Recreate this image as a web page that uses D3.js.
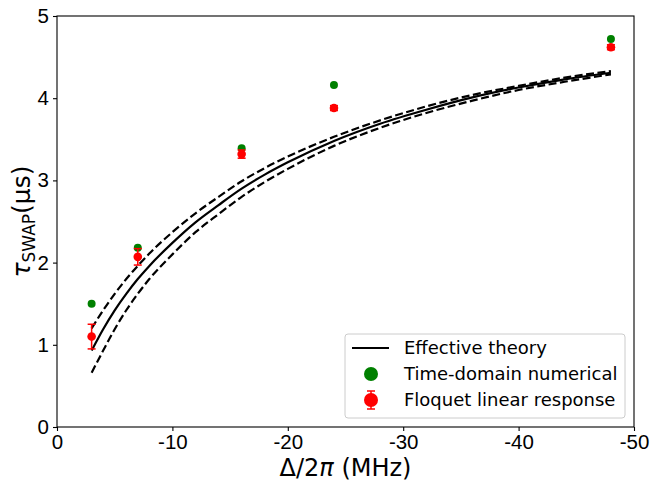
<!DOCTYPE html>
<html>
<head>
<meta charset="utf-8">
<script src="https://cdn.jsdelivr.net/npm/d3@7"></script>
<style>
  body { margin: 0; background: #fff; }
  svg { display: block; font-family: "DejaVu Sans", sans-serif; }
</style>
</head>
<body>
<svg id="chart" width="667" height="482"></svg>
<script>
// detuning values of the simulated points (MHz)
const detunings = [-3, -7, -16, -24, -48];
// time-domain numerical tau_SWAP (us)
const timeDomain = [1.50, 2.18, 3.39, 4.16, 4.72];
// Floquet linear response tau_SWAP and its error
const floquet = [1.10, 2.07, 3.32, 3.88, 4.62];
const floquetErr = [0.15, 0.10, 0.05, 0.03, 0.03];

// effective theory curves
const theoryX = [-3, -4, -5, -6, -7, -8, -10, -12, -14, -16, -18, -20, -24, -28, -32, -36, -40, -44, -48];
const theoryMid = [0.93, 1.19, 1.42, 1.62, 1.80, 1.96, 2.24, 2.49, 2.70, 2.90, 3.07, 3.22, 3.48, 3.69, 3.86, 4.01, 4.13, 4.23, 4.31];
const theoryUpper = [1.20, 1.42, 1.62, 1.80, 1.96, 2.11, 2.37, 2.60, 2.80, 2.99, 3.15, 3.29, 3.53, 3.73, 3.90, 4.04, 4.15, 4.25, 4.33];
const theoryLower = [0.66, 0.93, 1.19, 1.42, 1.62, 1.80, 2.10, 2.37, 2.59, 2.80, 2.98, 3.14, 3.42, 3.64, 3.82, 3.97, 4.10, 4.20, 4.29];

const xTicks = [0, -10, -20, -30, -40, -50];
const yTicks = [0, 1, 2, 3, 4, 5];

const legendItems = ['Effective theory', 'Time-domain numerical', 'Floquet linear response'];

const margin = { top: 16, right: 33, bottom: 55, left: 57 };
const width = 667, height = 482;

const svg = d3.select('#chart');

const x = d3.scaleLinear().domain([0, -50]).range([margin.left, width - margin.right]);
const y = d3.scaleLinear().domain([0, 5]).range([height - margin.bottom, margin.top]);

// axes
const xAxis = d3.axisBottom(x).tickValues(xTicks).tickSize(4).tickPadding(3)
  .tickFormat(d => d3.format('d')(d).replace('−', '-'));
const yAxis = d3.axisLeft(y).tickValues(yTicks).tickSize(4).tickPadding(4)
  .tickFormat(d3.format('d'));

const gx = svg.append('g')
  .attr('transform', `translate(0,${y(0)})`)
  .call(xAxis);
const gy = svg.append('g')
  .attr('transform', `translate(${x(0)},0)`)
  .call(yAxis);

[gx, gy].forEach(g => {
  g.select('.domain').remove();
  g.selectAll('.tick line').attr('stroke', '#000').attr('stroke-width', 1.1);
  g.selectAll('.tick text').attr('fill', '#000').style('font-size', '20.5px');
});

// frame
svg.append('rect')
  .attr('x', x(0)).attr('y', y(5))
  .attr('width', x(-50) - x(0)).attr('height', y(0) - y(5))
  .attr('fill', 'none').attr('stroke', '#000').attr('stroke-width', 1.1);

// theory curves
const line = d3.line()
  .x((d, i) => x(theoryX[i]))
  .y(d => y(d))
  .curve(d3.curveMonotoneX);

svg.append('path').datum(theoryMid)
  .attr('d', line).attr('fill', 'none')
  .attr('stroke', '#000').attr('stroke-width', 2.2);

[theoryUpper, theoryLower].forEach(arr => {
  svg.append('path').datum(arr)
    .attr('d', line).attr('fill', 'none')
    .attr('stroke', '#000').attr('stroke-width', 2.2)
    .attr('stroke-dasharray', '8,3.5');
});

// time-domain points
svg.append('g').selectAll('circle')
  .data(timeDomain)
  .join('circle')
  .attr('cx', (d, i) => x(detunings[i]))
  .attr('cy', d => y(d))
  .attr('r', 4)
  .attr('fill', 'green');

// floquet points with error bars
const eb = svg.append('g').selectAll('g')
  .data(floquet)
  .join('g');

eb.append('line')
  .attr('x1', (d, i) => x(detunings[i])).attr('x2', (d, i) => x(detunings[i]))
  .attr('y1', (d, i) => y(d - floquetErr[i])).attr('y2', (d, i) => y(d + floquetErr[i]))
  .attr('stroke', 'red').attr('stroke-width', 1.5);

[-1, 1].forEach(s => {
  eb.append('line')
    .attr('x1', (d, i) => x(detunings[i]) - 4).attr('x2', (d, i) => x(detunings[i]) + 4)
    .attr('y1', (d, i) => y(d + s * floquetErr[i])).attr('y2', (d, i) => y(d + s * floquetErr[i]))
    .attr('stroke', 'red').attr('stroke-width', 1.5);
});

eb.append('circle')
  .attr('cx', (d, i) => x(detunings[i]))
  .attr('cy', d => y(d))
  .attr('r', 4.3)
  .attr('fill', 'red');

// axis labels
svg.append('text')
  .attr('x', (x(0) + x(-50)) / 2)
  .attr('y', 476)
  .attr('text-anchor', 'middle')
  .style('font-size', '24px')
  .html('Δ/2<tspan font-style="italic">π</tspan> (MHz)');

svg.append('text')
  .attr('transform', `translate(30,${(y(0) + y(5)) / 2}) rotate(-90)`)
  .attr('text-anchor', 'middle')
  .style('font-size', '25px')
  .html('<tspan font-style="italic">τ</tspan><tspan font-size="17px" dy="5">SWAP</tspan><tspan dy="-5">(μs)</tspan>');

// legend
const lg = svg.append('g').attr('transform', 'translate(345,334)');
lg.append('rect')
  .attr('width', 280).attr('height', 84)
  .attr('rx', 3)
  .attr('fill', '#fff').attr('fill-opacity', 0.8)
  .attr('stroke', '#cccccc').attr('stroke-width', 1);

const rows = lg.selectAll('g.row')
  .data(legendItems)
  .join('g')
  .attr('class', 'row')
  .attr('transform', (d, i) => `translate(0,${14 + i * 26})`);

rows.append('text')
  .attr('x', 59).attr('y', 0)
  .attr('dy', '0.35em')
  .style('font-size', '18px')
  .attr('fill', '#000')
  .text(d => d);

rows.filter((d, i) => i === 0).append('line')
  .attr('x1', 7).attr('x2', 44)
  .attr('stroke', '#000').attr('stroke-width', 2.2);

rows.filter((d, i) => i === 1).append('circle')
  .attr('cx', 26).attr('r', 7).attr('fill', 'green');

const fl = rows.filter((d, i) => i === 2);
fl.append('line').attr('x1', 26).attr('x2', 26).attr('y1', -9).attr('y2', 9)
  .attr('stroke', 'red').attr('stroke-width', 1.5);
fl.append('line').attr('x1', 22).attr('x2', 30).attr('y1', -9).attr('y2', -9)
  .attr('stroke', 'red').attr('stroke-width', 1.5);
fl.append('line').attr('x1', 22).attr('x2', 30).attr('y1', 9).attr('y2', 9)
  .attr('stroke', 'red').attr('stroke-width', 1.5);
fl.append('circle').attr('cx', 26).attr('r', 7).attr('fill', 'red');
</script>
</body>
</html>
